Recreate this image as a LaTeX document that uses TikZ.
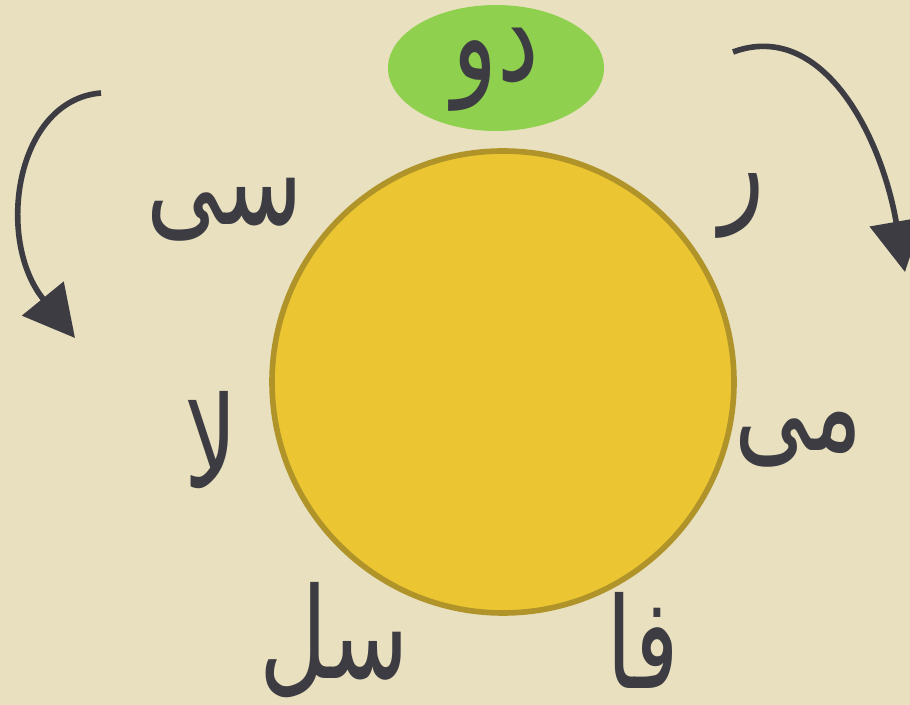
\documentclass[tikz,border=0pt]{standalone}
\usepackage{fontspec}
\usetikzlibrary{arrows.meta,shapes.geometric}
\TeXXeTstate=1
\newfontfamily\arabicfont[Script=Arabic,FakeStretch=0.74]{DejaVu Sans}
\definecolor{bgc}{HTML}{E8E0BF}
\definecolor{sunc}{HTML}{EBC532}
\definecolor{sunb}{HTML}{B0942A}
\definecolor{greenc}{HTML}{8FD14F}
\definecolor{inkc}{HTML}{3D3C42}
\tikzset{
  note/.style={text=inkc, font=\arabicfont\fontsize{72}{80}\selectfont, inner sep=0pt},
  turn/.style={draw=inkc, line width=3.2pt, -{Triangle[length=29pt,width=30pt]}},
}
\begin{document}
\begin{tikzpicture}[x=0.02cm,y=-0.02cm]
\fill[bgc] (0,0) rectangle (910,705);
\useasboundingbox (0,0) rectangle (910,705);
\node[circle, fill=sunc, draw=sunb, line width=3.2pt, minimum size=462*0.02cm, inner sep=0pt] (sun) at (503,382) {};
\node[ellipse, fill=greenc, minimum width=216*0.02cm, minimum height=126*0.02cm, inner sep=0pt] (do) at (496,68) {};
\node[note] (dot) at (496,70) {\beginR دو\endR};
\node[note] (re) at (742,206) {\beginR ر\endR};
\node[note] (mi) at (799,440) {\beginR می\endR};
\node[note] (fa) at (643,640) {\beginR فا\endR};
\node[note] (sol) at (334,640) {\beginR سل\endR};
\node[note] (la) at (211,440) {\beginR لا\endR};
\node[note] (si) at (225,210) {\beginR سی\endR};
\coordinate (l1) at (101,93);
\coordinate (l2) at (75,338);
\coordinate (r1) at (733,52);
\coordinate (r2) at (905,272);
\draw[turn] (l1) .. controls (15,100) and (-5,240) .. (l2);
\draw[turn] (r1) .. controls (820,20) and (880,130) .. (r2);
\end{tikzpicture}
\end{document}
